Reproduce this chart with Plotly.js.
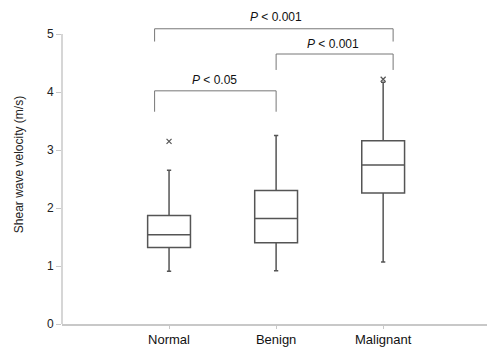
<!DOCTYPE html>
<html><head><meta charset="utf-8">
<script src="https://cdn.plot.ly/plotly-3.0.1.min.js"></script>
<style>html,body{margin:0;padding:0;background:#fff}#chart{width:487px;height:348px}</style>
</head><body><div id="chart"></div>
<script>
// Data
const categories = ["Normal", "Benign", "Malignant"];
const lowerWhisker = [0.91, 0.92, 1.07];
const q1 = [1.32, 1.40, 2.26];
const medians = [1.54, 1.82, 2.74];
const q3 = [1.87, 2.30, 3.16];
const upperWhisker = [2.65, 3.25, 4.17];
const outlierCats = ["Normal", "Malignant"];
const outlierValues = [3.15, 4.22];
const yTicks = [0, 1, 2, 3, 4, 5];

// Significance brackets: [from index, to index, bar height, leg bottom]
const bracketFrom = [-0.135, 1.0, -0.135];
const bracketTo = [1.0, 2.093, 2.093];
const bracketTop = [4.02, 4.655, 5.09];
const bracketLegs = [3.66, 4.38, 4.87];
const pLabels = ["<i>P</i> &lt; 0.05", "<i>P</i> &lt; 0.001", "<i>P</i> &lt; 0.001"];
const pLabelX = [0.42, 1.53, 1.0];
const pLabelY = [4.21, 4.82, 5.30];

const lineCol = "#555";
const traces = [{
  type: "box",
  x: categories,
  q1: q1, median: medians, q3: q3,
  lowerfence: lowerWhisker, upperfence: upperWhisker,
  width: 0.4,
  whiskerwidth: 0.1,
  fillcolor: "#fff",
  line: {color: lineCol, width: 1.5},
  boxpoints: false,
  hoverinfo: "skip",
  showlegend: false
}, {
  type: "scatter", mode: "markers",
  x: outlierCats, y: outlierValues,
  marker: {symbol: "x-thin", size: 5, line: {color: lineCol, width: 1.2}, color: lineCol},
  showlegend: false, hoverinfo: "skip"
}];

const shapes = [];
const annotations = [];
for (let i = 0; i < bracketFrom.length; i++) {
  shapes.push({
    type: "path", xref: "x", yref: "y",
    path: `M ${bracketFrom[i]},${bracketLegs[i]} L ${bracketFrom[i]},${bracketTop[i]} L ${bracketTo[i]},${bracketTop[i]} L ${bracketTo[i]},${bracketLegs[i]}`,
    line: {color: "#777", width: 1}
  });
  annotations.push({
    x: pLabelX[i], y: pLabelY[i], xref: "x", yref: "y",
    text: pLabels[i], showarrow: false,
    font: {family: "Liberation Sans, Arial, sans-serif", size: 12, color: "#111"}
  });
}
// y axis line only from 0 to 5
shapes.push({type: "line", xref: "paper", yref: "y", x0: 0, x1: 0, y0: 0, y1: 5,
  line: {color: "#c8c8c8", width: 1.5}});

const layout = {
  width: 487, height: 348,
  margin: {l: 62, r: 0, t: 5, b: 24},
  paper_bgcolor: "#fff", plot_bgcolor: "#fff",
  font: {family: "Liberation Sans, Arial, sans-serif", color: "#111", size: 12},
  xaxis: {
    type: "category", categoryarray: categories, range: [-1, 2.97],
    showline: true, linecolor: "#c8c8c8", linewidth: 1.5,
    ticks: "outside", ticklen: 3, tickcolor: "#c8c8c8",
    showgrid: false, zeroline: false,
    tickfont: {size: 13, color: "#111"}
  },
  yaxis: {
    range: [0, 5.5], tickvals: yTicks, ticktext: yTicks.map(String),
    showline: false, ticks: "outside", ticklen: 5, tickcolor: "#c8c8c8",
    showgrid: false, zeroline: false,
    tickfont: {size: 12, color: "#222"},
    title: {text: "Shear wave velocity (m/s)", font: {size: 12, color: "#222"}, standoff: 20}
  },
  boxgap: 0,
  shapes: shapes,
  annotations: annotations
};
Plotly.newPlot("chart", traces, layout, {displayModeBar: false, staticPlot: true});
</script></body></html>
